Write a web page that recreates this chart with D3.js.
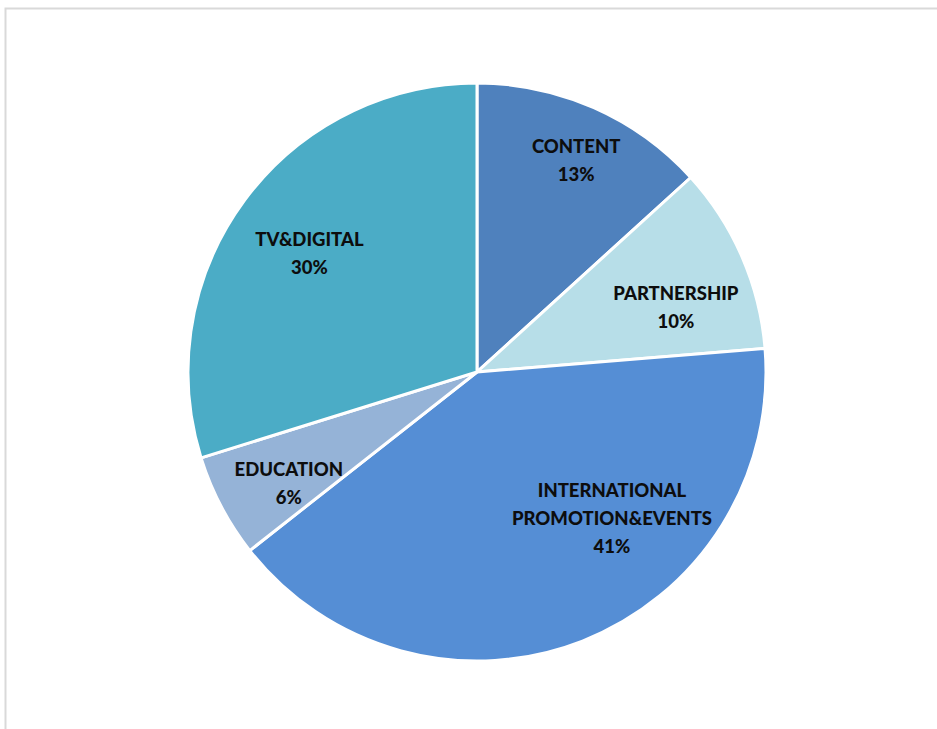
<!DOCTYPE html>
<html>
<head>
<meta charset="utf-8">
<script src="https://cdn.jsdelivr.net/npm/d3@7"></script>
<style>
  html, body { margin: 0; padding: 0; background: #fff; }
  svg { display: block; }
</style>
</head>
<body>
<div id="chart"></div>
<script>
// slice data, clockwise from 12 o'clock
const categories = [`CONTENT`, `PARTNERSHIP`, `INTERNATIONAL PROMOTION&EVENTS`, `EDUCATION`, `TV&DIGITAL`];
const shares = [13.25, 10.45, 40.7, 5.8, 29.8];
const colors = [`#4f81bd`, `#b7dee8`, `#558ed5`, `#95b3d7`, `#4bacc6`];

const WIDTH = 937, HEIGHT = 729;
const CX = 477, CY = 372, RADIUS = 289;

// label nudges (px) away from the default centroid, like excel's best fit
const labelNudge = {
  [`CONTENT`]: [15, -21],
  [`PARTNERSHIP`]: [8, 18],
  [`INTERNATIONAL PROMOTION&EVENTS`]: [59, -47],
  [`EDUCATION`]: [-4, 15],
  [`TV&DIGITAL`]: [0, 5],
};

const rows = categories.map((c, i) => ({ name: c, value: shares[i], color: colors[i] }));

const svg = d3.select(`#chart`).append(`svg`)
  .attr(`width`, WIDTH)
  .attr(`height`, HEIGHT);

// chart area frame
svg.append(`rect`)
  .attr(`x`, 5.5).attr(`y`, 8.5)
  .attr(`width`, 960).attr(`height`, 760)
  .attr(`fill`, `none`)
  .attr(`stroke`, `#d9d9d9`)
  .attr(`stroke-width`, 2);

const total = d3.sum(shares);
const pie = d3.pie().value(d => d.value).sort(null);
const arc = d3.arc().innerRadius(0).outerRadius(RADIUS);
const labelArc = d3.arc().innerRadius(RADIUS * 0.72).outerRadius(RADIUS * 0.72);

const g = svg.append(`g`).attr(`transform`, `translate(${CX},${CY})`);
const arcs = pie(rows);

g.selectAll(`path.slice`)
  .data(arcs)
  .join(`path`)
  .attr(`class`, `slice`)
  .attr(`d`, arc)
  .attr(`fill`, d => d.data.color)
  .attr(`stroke`, `#fff`)
  .attr(`stroke-width`, 3)
  .attr(`stroke-linejoin`, `miter`);

const labels = g.selectAll(`text.lbl`)
  .data(arcs)
  .join(`text`)
  .attr(`class`, `lbl`)
  .attr(`transform`, d => {
    let [x, y] = labelArc.centroid(d);
    let [nx, ny] = labelNudge[d.data.name] || [0, 0];
    return `translate(${x + nx},${y + ny})`;
  })
  .attr(`text-anchor`, `middle`)
  .attr(`font-family`, `Lato, "Open Sans", sans-serif`)
  .attr(`font-weight`, 900)
  .attr(`font-size`, 18.5)
  .attr(`fill`, `#0d0d0d`);

labels.each(function (d) {
  let lines = d.data.name === `INTERNATIONAL PROMOTION&EVENTS`
    ? [`INTERNATIONAL`, `PROMOTION&EVENTS`]
    : [d.data.name];
  lines.push(`${Math.round(d.data.value / total * 100)}%`);
  let lineH = 28;
  let startY = -(lines.length - 1) * lineH / 2;
  let t = d3.select(this);
  lines.forEach((line, i) => {
    t.append(`tspan`)
      .attr(`x`, 0)
      .attr(`y`, startY + i * lineH)
      .attr(`dy`, `0.35em`)
      .text(line);
  });
});
</script>
</body>
</html>
